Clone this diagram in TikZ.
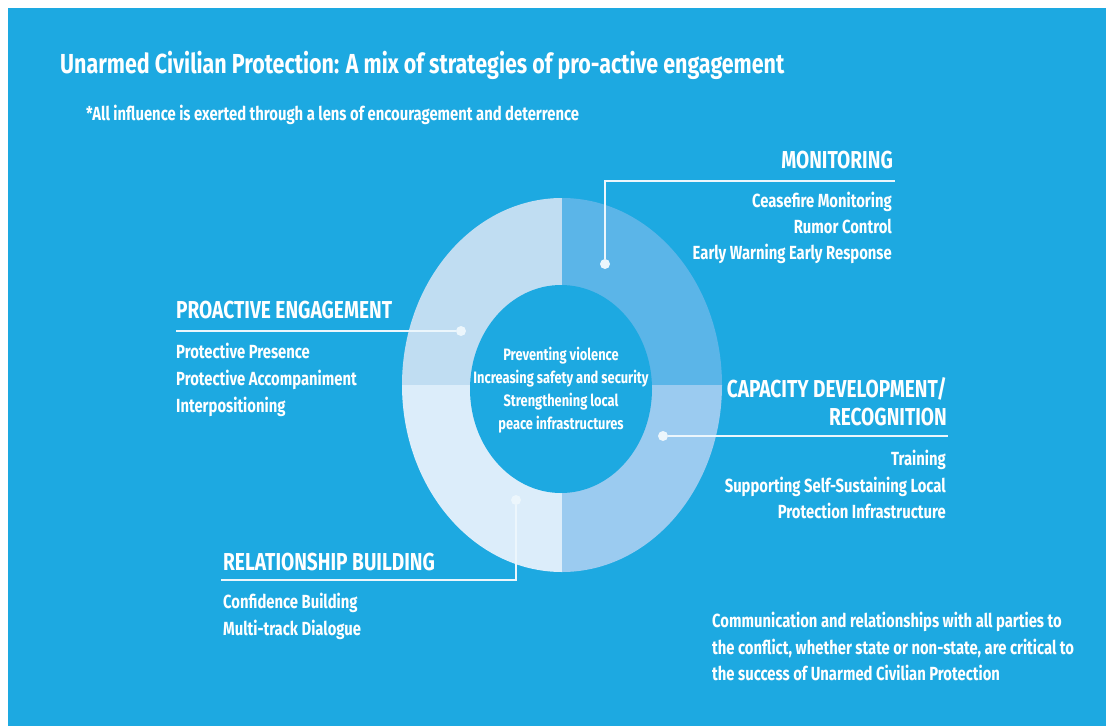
\documentclass[tikz,border=0pt]{standalone}
\usepackage{fontspec}
\setmainfont{Fira Sans}[FakeStretch=0.78]

\definecolor{ucpblue}{RGB}{29,169,225}
\definecolor{ringtl}{RGB}{192,221,242}
\definecolor{ringtr}{RGB}{91,181,232}
\definecolor{ringbl}{RGB}{220,237,250}
\definecolor{ringbr}{RGB}{155,203,240}
\definecolor{leadclr}{RGB}{236,246,252}

\tikzset{
  dot/.style={circle,fill=leadclr,inner sep=0pt,minimum size=10pt},
  lead/.style={draw=leadclr,line width=2pt},
  head/.style={text=white,inner sep=0pt,font=\fontsize{24.5}{28}\selectfont\bfseries},
  item/.style={text=white,inner sep=0pt,font=\fontsize{19}{22}\selectfont\bfseries},
}

\begin{document}
\begin{tikzpicture}[x=1pt,y=-1pt]

      \useasboundingbox (0,0) rectangle (1106,726);
      \fill[white] (0,0) rectangle (1106,726);
      \fill[ucpblue] (8,8) rectangle (1106,726);

      % the four quarters of the ring
      \begin{scope}
        \clip (562,385) rectangle (390,190);
        \fill[ringtl] (562,385) ellipse [x radius=160,y radius=187];
      \end{scope}
      \begin{scope}
        \clip (562,385) rectangle (730,190);
        \fill[ringtr] (562,385) ellipse [x radius=160,y radius=187];
      \end{scope}
      \begin{scope}
        \clip (562,385) rectangle (390,580);
        \fill[ringbl] (562,385) ellipse [x radius=160,y radius=187];
      \end{scope}
      \begin{scope}
        \clip (562,385) rectangle (730,580);
        \fill[ringbr] (562,385) ellipse [x radius=160,y radius=187];
      \end{scope}
      \fill[ucpblue] (561,389) ellipse [x radius=91,y radius=104];

      % title
      \node[anchor=base west,text=white,inner sep=0pt,
            font=\fontsize{27.5}{30}\selectfont\bfseries] (title) at (60,73)
        {Unarmed Civilian Protection: A mix of strategies of pro-active engagement};
      \node[item,anchor=base west] (subtitle) at (86,120)
        {*All influence is exerted through a lens of encouragement and deterrence};

      % dots and line ends
      \node[dot] (dmon) at (605,264) {};
      \node[dot] (dpro) at (461,331) {};
      \node[dot] (dcap) at (663,436) {};
      \node[dot] (drel) at (516,500) {};
      \coordinate (emon) at (895,181);
      \coordinate (epro) at (176,331);
      \coordinate (ecap) at (948,436);
      \coordinate (erel) at (221,580);

      \begin{scope}[every edge/.style={lead}]
        \path (dmon) edge[to path={|- (\tikztotarget)}] (emon);
        \path (dpro) edge (epro);
        \path (dcap) edge (ecap);
        \path (drel) edge[to path={|- (\tikztotarget)}] (erel);
      \end{scope}

      % monitoring
      \node[head,anchor=base east] (mon)  at (893,168) {MONITORING};
      \begin{scope}[every node/.style={item,anchor=base east}]
        \node (mon1) at (892,207) {Ceasefire Monitoring};
        \node (mon2) at (892,233) {Rumor Control};
        \node (mon3) at (892,259) {Early Warning Early Response};
      \end{scope}

      % proactive engagement
      \node[head,anchor=base west] (pro) at (176,318) {PROACTIVE ENGAGEMENT};
      \begin{scope}[every node/.style={item,anchor=base west}]
        \node (pro1) at (176,358) {Protective Presence};
        \node (pro2) at (176,385) {Protective Accompaniment};
        \node (pro3) at (176,412) {Interpositioning};
      \end{scope}

      % capacity development
      \node[head,anchor=base east] (cap)  at (947,397) {CAPACITY DEVELOPMENT/};
      \node[head,anchor=base east] (capb) at (947,425) {RECOGNITION};
      \begin{scope}[every node/.style={item,anchor=base east}]
        \node (cap1) at (946,465) {Training};
        \node (cap2) at (946,492) {Supporting Self-Sustaining Local};
        \node (cap3) at (946,518) {Protection Infrastructure};
      \end{scope}

      % relationship building
      \node[head,anchor=base west] (rel) at (223,570) {RELATIONSHIP BUILDING};
      \begin{scope}[every node/.style={item,anchor=base west}]
        \node (rel1) at (223,608) {Confidence Building};
        \node (rel2) at (223,635) {Multi-track Dialogue};
      \end{scope}

      % centre of the ring
      \begin{scope}[every node/.style={item,anchor=base,font=\fontsize{16.5}{20}\selectfont\bfseries}]
        \node (c1) at (561,360) {Preventing violence};
        \node (c2) at (561,383) {Increasing safety and security};
        \node (c3) at (561,406) {Strengthening local};
        \node (c4) at (561,429) {peace infrastructures};
      \end{scope}

      % note at the bottom
      \begin{scope}[every node/.style={item,anchor=base west,font=\fontsize{19}{22}\selectfont\bfseries}]
        \node (n1) at (712,627) {Communication and relationships with all parties to};
        \node (n2) at (712,654) {the conflict, whether state or non-state, are critical to};
        \node (n3) at (712,680) {the success of Unarmed Civilian Protection};
      \end{scope}

    \end{tikzpicture}
\end{document}
